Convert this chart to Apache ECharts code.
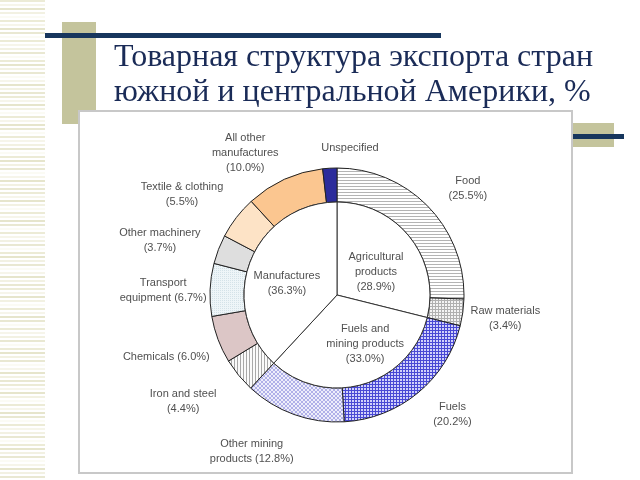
<!DOCTYPE html>
<html><head><meta charset="utf-8">
<script src="https://cdn.jsdelivr.net/npm/echarts@6/dist/echarts.min.js"></script>
<style>html,body{margin:0;padding:0;background:#fff}#c{width:640px;height:480px}</style>
</head><body><div id="c"></div>
<script>
// ---- data ----
const titleLines = ['Товарная структура экспорта стран', 'южной и центральной Америки, %'];
const productNames = ['Food', 'Raw materials', 'Fuels', 'Other mining\nproducts', 'Iron and steel', 'Chemicals', 'Transport\nequipment', 'Other machinery', 'Textile & clothing', 'All other\nmanufactures', 'Unspecified'];
const productShares = [25.5, 3.4, 20.2, 12.8, 4.4, 6.0, 6.7, 3.7, 5.5, 10.0, 1.8];
const productPctOnNewLine = [true, true, true, false, true, false, false, true, true, true, false];
const productShowPct = [true, true, true, true, true, true, true, true, true, true, false];
const groupNames = ['Agricultural\nproducts', 'Fuels and\nmining products', 'Manufactures'];
const groupShares = [28.9, 33.0, 36.3];

// ---- label placement tweaks (layout only) ----
const productLabelNudge = [[3, 17], [-8, -1], [2, -18], [-25, -11], [-16, -6], [-4, 0], [4, 3], [-11, 9], [-14, 8], [-18, 20], [23, 31]];
const groupLabelNudge = [[0, 7], [14, 2], [-4, 7]];

// ---- patterns ----
function pat(w, h, draw) {
  const c = document.createElement('canvas'); c.width = w; c.height = h;
  const g = c.getContext('2d'); draw(g, w, h);
  return { image: c, repeat: 'repeat' };
}
function px(g, x, y, col) { g.fillStyle = col; g.fillRect(x, y, 1, 1); }
const fills = [
  pat(1, 3, (g) => { g.fillStyle = '#fff'; g.fillRect(0, 0, 1, 3); px(g, 0, 0, '#b4b4b4'); }),
  pat(3, 3, (g) => { g.fillStyle = '#f4f4f4'; g.fillRect(0, 0, 3, 3); g.fillStyle = '#b0b0b0'; g.fillRect(0, 0, 3, 1); g.fillRect(0, 0, 1, 3); }),
  pat(3, 3, (g) => { g.fillStyle = '#d0d0fa'; g.fillRect(0, 0, 3, 3); g.fillStyle = '#4848d4'; g.fillRect(0, 0, 3, 1); g.fillRect(0, 0, 1, 3); }),
  pat(4, 4, (g) => { g.fillStyle = '#eeeefb'; g.fillRect(0, 0, 4, 4); for (let i = 0; i < 4; i++) { px(g, i, i, '#b0b0e8'); px(g, 3 - i, i, '#b0b0e8'); } }),
  pat(3, 1, (g) => { g.fillStyle = '#fafafa'; g.fillRect(0, 0, 3, 1); px(g, 0, 0, '#a8a8a8'); }),
  '#dcc6c6',
  pat(2, 2, (g) => { g.fillStyle = '#eef5f8'; g.fillRect(0, 0, 2, 2); px(g, 0, 0, '#d4e2e8'); }),
  '#dedede',
  '#fde3c6',
  '#fbc690',
  '#2c2c9c'
];

const chart = echarts.init(document.getElementById('c'), null, { renderer: 'canvas' });

// decorations
const deco = [];
const stripeCols = ['#ecebd6', '#f6f5ea', '#e6e5cc', '#f2f1e2', '#e9e8d2', '#fbfbf4'];
for (let y = 0, i = 0; y < 480; y += 4, i++) {
  deco.push({ type: 'rect', z: 0, silent: true, shape: { x: 0, y: y, width: 45, height: 2 }, style: { fill: stripeCols[(i * 7 + (i >> 2)) % stripeCols.length] } });
}
deco.push({ type: 'rect', z: 1, silent: true, shape: { x: 62, y: 22, width: 34, height: 102 }, style: { fill: '#c4c49c' } });
deco.push({ type: 'rect', z: 2, silent: true, shape: { x: 45, y: 33, width: 396, height: 5 }, style: { fill: '#17365d' } });
deco.push({ type: 'rect', z: 3, silent: true, shape: { x: 79, y: 111, width: 493, height: 362 }, style: { fill: '#ffffff', stroke: '#c8c8c8', lineWidth: 2 } });
deco.push({ type: 'rect', z: 1, silent: true, shape: { x: 573, y: 123, width: 41, height: 24 }, style: { fill: '#c4c49c' } });
deco.push({ type: 'rect', z: 2, silent: true, shape: { x: 573, y: 134, width: 51, height: 5 }, style: { fill: '#17365d' } });

const center = [337, 295];
const labelFont = { fontFamily: 'Liberation Sans, Arial, sans-serif', fontSize: 11, color: '#505050', lineHeight: 15 };

const ringData = productNames.map((n, i) => ({ name: n, value: productShares[i], itemStyle: { color: fills[i] } }));
const labelData = productNames.map((n, i) => ({ name: n, value: productShares[i] }));
const innerData = groupNames.map((n, i) => ({
  name: n,
  value: i === groupNames.length - 1 ? groupShares[i] + productShares[productShares.length - 1] : groupShares[i],
  shownPct: groupShares[i]
}));

chart.setOption({
  animation: false,
  backgroundColor: '#ffffff',
  title: {
    text: titleLines.join('\n'),
    left: 114, top: 40,
    padding: 0,
    textStyle: { fontFamily: 'Liberation Serif, Times New Roman, serif', fontSize: 32, fontWeight: 'normal', color: '#1a2b57', lineHeight: 35 }
  },
  graphic: { elements: deco },
  series: [
    {
      type: 'pie', z: 5, center: center, radius: [93, 127], startAngle: 90, clockwise: true, silent: true,
      label: { show: false }, labelLine: { show: false },
      itemStyle: { borderColor: '#222', borderWidth: 1 },
      data: ringData
    },
    {
      type: 'pie', z: 5, center: center, radius: [0, 93], startAngle: 90, clockwise: true, silent: true,
      itemStyle: { color: '#ffffff', borderColor: '#333', borderWidth: 1 },
      label: {
        show: true, position: 'inside', ...labelFont,
        formatter: (p) => p.name + '\n(' + p.data.shownPct.toFixed(1) + '%)'
      },
      labelLayout: (p) => ({ dx: groupLabelNudge[p.dataIndex][0], dy: groupLabelNudge[p.dataIndex][1] }),
      labelLine: { show: false },
      data: innerData
    },
    {
      type: 'pie', z: 6, center: center, radius: [162, 188], startAngle: 90, clockwise: true, silent: true,
      itemStyle: { color: 'rgba(0,0,0,0)', borderWidth: 0 },
      label: {
        show: true, position: 'inside', ...labelFont,
        formatter: (p) => {
          const i = p.dataIndex;
          if (!productShowPct[i]) return p.name;
          return p.name + (productPctOnNewLine[i] ? '\n' : ' ') + '(' + productShares[i].toFixed(1) + '%)';
        }
      },
      labelLayout: (p) => ({ dx: productLabelNudge[p.dataIndex][0], dy: productLabelNudge[p.dataIndex][1] }),
      labelLine: { show: false },
      emphasis: { disabled: true },
      data: labelData
    }
  ]
});
</script>
</body></html>
